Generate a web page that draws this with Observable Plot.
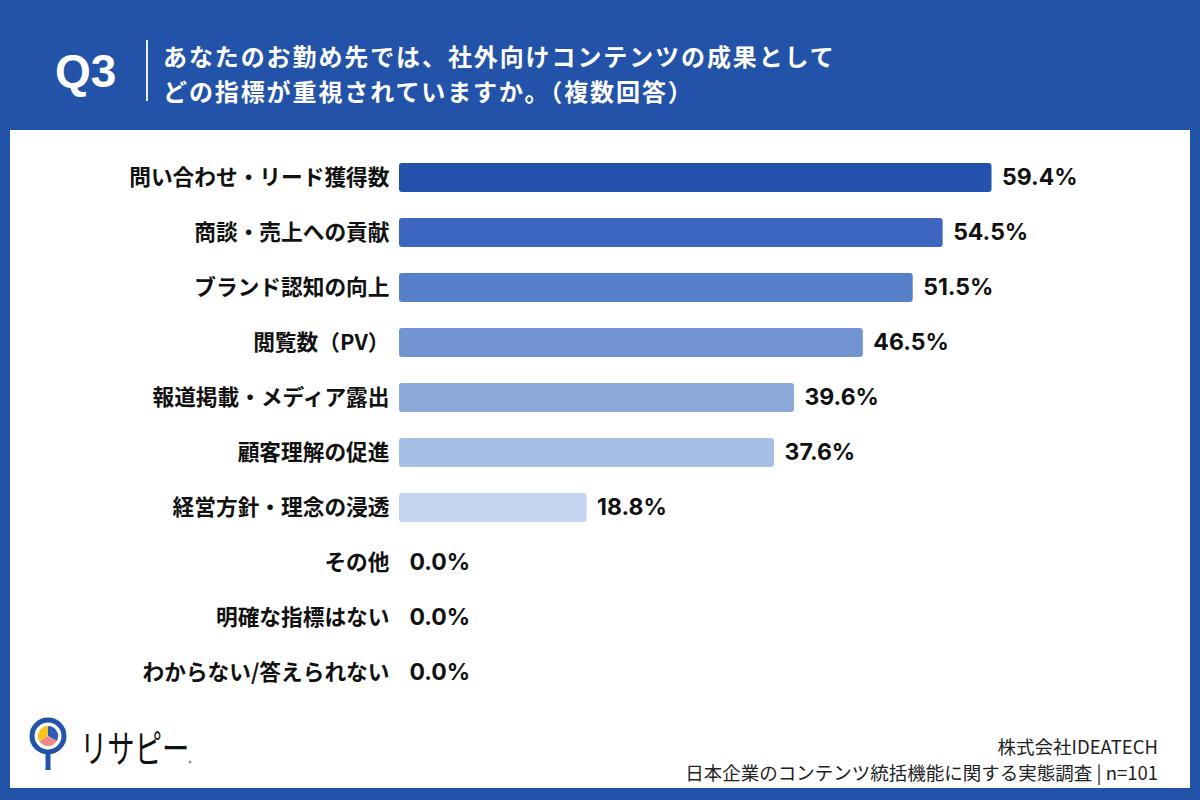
<!DOCTYPE html>
<html lang="ja">
<head>
<meta charset="utf-8">
<script src="https://cdn.jsdelivr.net/npm/d3@7"></script>
<script src="https://cdn.jsdelivr.net/npm/@observablehq/plot@0.6"></script>
<style>
  html, body { margin: 0; padding: 0; }
  body {
    width: 1200px; height: 800px; position: relative; overflow: hidden;
    background: #2353a8;
    font-family: "Noto Sans CJK JP", "Noto Sans", sans-serif;
  }
  #qno {
    position: absolute; left: 55px; top: 44px;
    font-family: "Liberation Sans", Arial, sans-serif; font-weight: 700;
    font-size: 46px; line-height: 54px; color: #fff;
  }
  #divider { position: absolute; left: 146px; top: 40px; width: 2px; height: 61px; background: #fff; opacity: 0.9; }
  .tline {
    position: absolute; left: 163px;
    font-weight: 700; font-size: 24px; line-height: 35px; color: #fff; letter-spacing: 1.9px;
    white-space: nowrap;
  }
  #panel { position: absolute; left: 10px; top: 130px; width: 1180px; height: 658px; background: #fff; }
  #chart { position: absolute; left: 0; top: 150px; }
  .src {
    position: absolute; right: 42px; text-align: right; white-space: nowrap;
    font-size: 18.5px; line-height: 24px; color: #222;
  }
  #logo { position: absolute; left: 28px; top: 708px; }
  #brand {
    position: absolute; left: 80px; top: 721px; font-size: 38px; line-height: 50px; color: #111;
    transform: scaleX(0.72); transform-origin: left center; white-space: nowrap;
  }
</style>
</head>
<body>
<div id="qno">Q3</div>
<div id="divider"></div>
<div class="tline" style="top:38px">あなたのお勤め先では、社外向けコンテンツの成果として</div>
<div class="tline" style="top:73px">どの指標が重視されていますか。（複数回答）</div>
<div id="panel"></div>
<div id="chart"></div>
<div class="src" style="top:734px">株式会社IDEATECH</div>
<div class="src" style="top:760px">日本企業のコンテンツ統括機能に関する実態調査 | n=101</div>
<svg id="logo" width="170" height="70" viewBox="0 0 170 70">
  <circle cx="20" cy="28" r="16" fill="#fff" stroke="#2353a8" stroke-width="5"/>
  <line x1="20" y1="44" x2="20" y2="62" stroke="#2353a8" stroke-width="5"/>
  <path d="M20,28 L20,18 A10,10 0 0 1 28.7,33 Z" fill="#2f5db5"/>
  <path d="M20,28 L28.7,33 A10,10 0 0 1 11.3,33 Z" fill="#f08a8a"/>
  <path d="M20,28 L11.3,33 A10,10 0 0 1 20,18 Z" fill="#f5c51c"/>
  <circle cx="162" cy="54" r="1.5" fill="#999"/>
</svg>
<div id="brand">リサピー</div>
<script>
// Survey answers (multiple choice), share of respondents in %
const categories = [
  "問い合わせ・リード獲得数",
  "商談・売上への貢献",
  "ブランド認知の向上",
  "閲覧数（PV）",
  "報道掲載・メディア露出",
  "顧客理解の促進",
  "経営方針・理念の浸透",
  "その他",
  "明確な指標はない",
  "わからない/答えられない"
];
const values = [59.4, 54.5, 51.5, 46.5, 39.6, 37.6, 18.8, 0.0, 0.0, 0.0];

// Blue ramp, darkest for the top answer
const palette = ["#2451ab", "#3c66bf", "#5680c9", "#7295d2", "#8eaadb", "#a7bfe6", "#c2d4ef", "#d5e2f5", "#d5e2f5", "#d5e2f5"];

const data = categories.map((label, i) => ({label, value: values[i]}));

const chart = Plot.plot({
  width: 1200,
  height: 550,
  marginLeft: 399,
  marginRight: 3,
  marginTop: 0,
  marginBottom: 0,
  x: {domain: [0, 80], axis: null},
  y: {domain: categories, axis: null, paddingInner: 0.47, paddingOuter: 0.235},
  color: {domain: categories, range: palette},
  style: {background: "transparent", overflow: "visible"},
  marks: [
    Plot.barX(data, {x: "value", y: "label", fill: "label", rx: 3}),
    Plot.text(data, {
      x: 0, y: "label", text: "label", textAnchor: "end", dx: -10,
      fontFamily: "Noto Sans CJK JP", fontWeight: 700, fontSize: 21.7, fill: "#111"
    }),
    Plot.text(data, {
      x: "value", y: "label", text: d => d.value.toFixed(1) + "%", textAnchor: "start", dx: 10,
      fontFamily: "Inter", fontWeight: 700, fontSize: 23, fill: "#111"
    })
  ]
});
document.getElementById("chart").appendChild(chart);
</script>
</body>
</html>
